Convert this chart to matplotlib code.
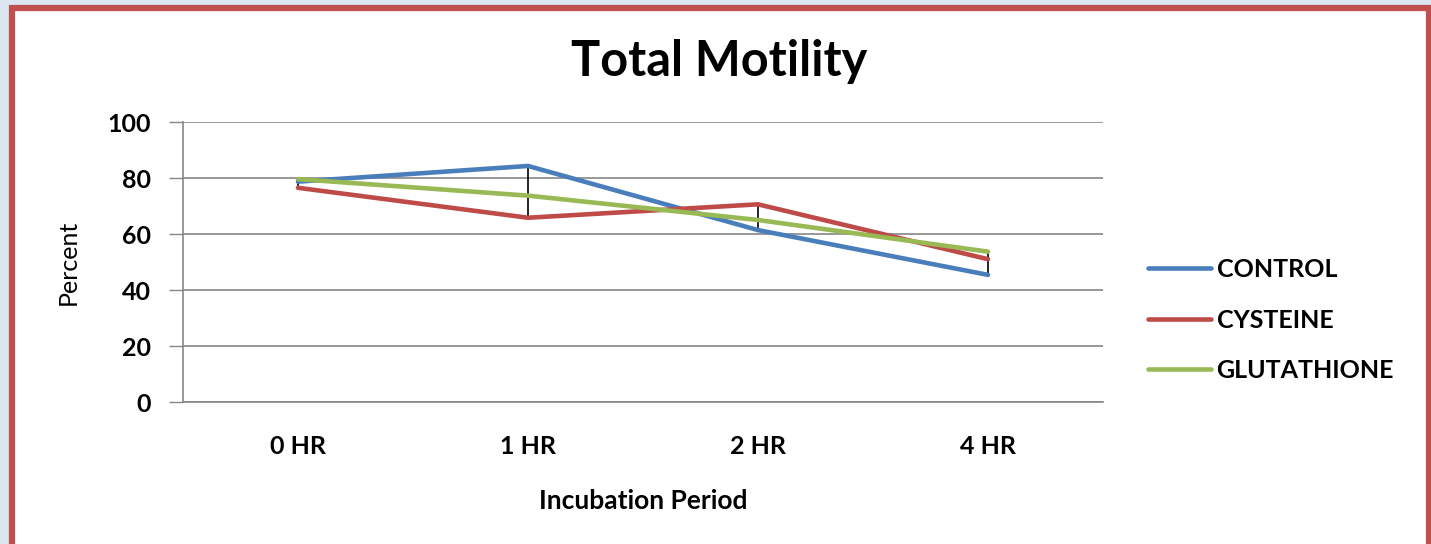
import numpy as np
import matplotlib
matplotlib.use("Agg")
import matplotlib.pyplot as plt
from matplotlib.patches import Rectangle

# ---- data ----
periods = ["0 HR", "1 HR", "2 HR", "4 HR"]
control = [78.7, 84.3, 61.4, 45.4]
cysteine = [76.5, 65.8, 70.6, 51.0]
glutathione = [79.6, 73.7, 65.0, 53.7]
series_names = ["CONTROL", "CYSTEINE", "GLUTATHIONE"]
series_colors = ["#4a7ebb", "#be4b48", "#98b954"]
yticks = [0, 20, 40, 60, 80, 100]

plt.rcParams["font.family"] = ["Lato", "DejaVu Sans"]

fig = plt.figure(figsize=(14.31, 5.44), dpi=100, facecolor="#dbe6f1")

# white panel with red frame (bottom edge runs off the image)
frame = Rectangle((11.5 / 1431, -0.05), (1428.5 - 11.5) / 1431, (544 - 7.5) / 544 + 0.05,
                  transform=fig.transFigure, facecolor="white", edgecolor="#c0504d",
                  linewidth=4.5, zorder=-10)
fig.patches.append(frame)

ax = fig.add_axes([183 / 1431, 1 - 402 / 544, 920 / 1431, 280 / 544])
ax.set_facecolor("none")

x = np.arange(len(periods))
data = [control, cysteine, glutathione]

# high-low lines
arr = np.array(data)
ax.vlines(x, arr.min(axis=0), arr.max(axis=0), color="black", linewidth=1.2, zorder=2)

for vals, name, col in zip(data, series_names, series_colors):
    ax.plot(x, vals, color=col, linewidth=3.3, label=name, zorder=3,
            solid_capstyle="round", solid_joinstyle="miter")

ax.set_xlim(-0.5, len(periods) - 0.5)
ax.set_ylim(0, 100)
ax.set_yticks(yticks)
ax.set_yticklabels([str(v) for v in yticks], fontsize=18, fontweight="bold")
ax.set_xticks(x)
ax.set_xticklabels(periods, fontsize=18, fontweight="bold")
ax.tick_params(axis="x", length=0, pad=24)
ax.tick_params(axis="y", length=10, width=1, color="#868686", pad=13)

ax.grid(axis="y", color="#868686", linewidth=1.2)
ax.set_axisbelow(True)
for s in ["top", "right"]:
    ax.spines[s].set_visible(False)
ax.spines["left"].set_color("#868686")
ax.spines["bottom"].set_color("#868686")
ax.spines["left"].set_linewidth(1.2)
ax.spines["bottom"].set_linewidth(1.2)

ax.set_xlabel("Incubation Period", fontsize=19, fontweight="bold", labelpad=22)
ax.set_ylabel("Percent", fontsize=18, labelpad=20)

fig.text(719 / 1431, 1 - 62 / 544, "Total Motility", fontsize=35, fontweight="bold",
         ha="center", va="center")

leg = ax.legend(loc="center left", bbox_to_anchor=((1148 - 183) / 920, 1 - (320 - 122) / 280),
                frameon=False, handlelength=2.5, handletextpad=0.24, borderaxespad=0,
                borderpad=0, labelspacing=1.1, prop={"weight": "bold", "size": 18})

fig.savefig("out.png", dpi=100, facecolor=fig.get_facecolor())
